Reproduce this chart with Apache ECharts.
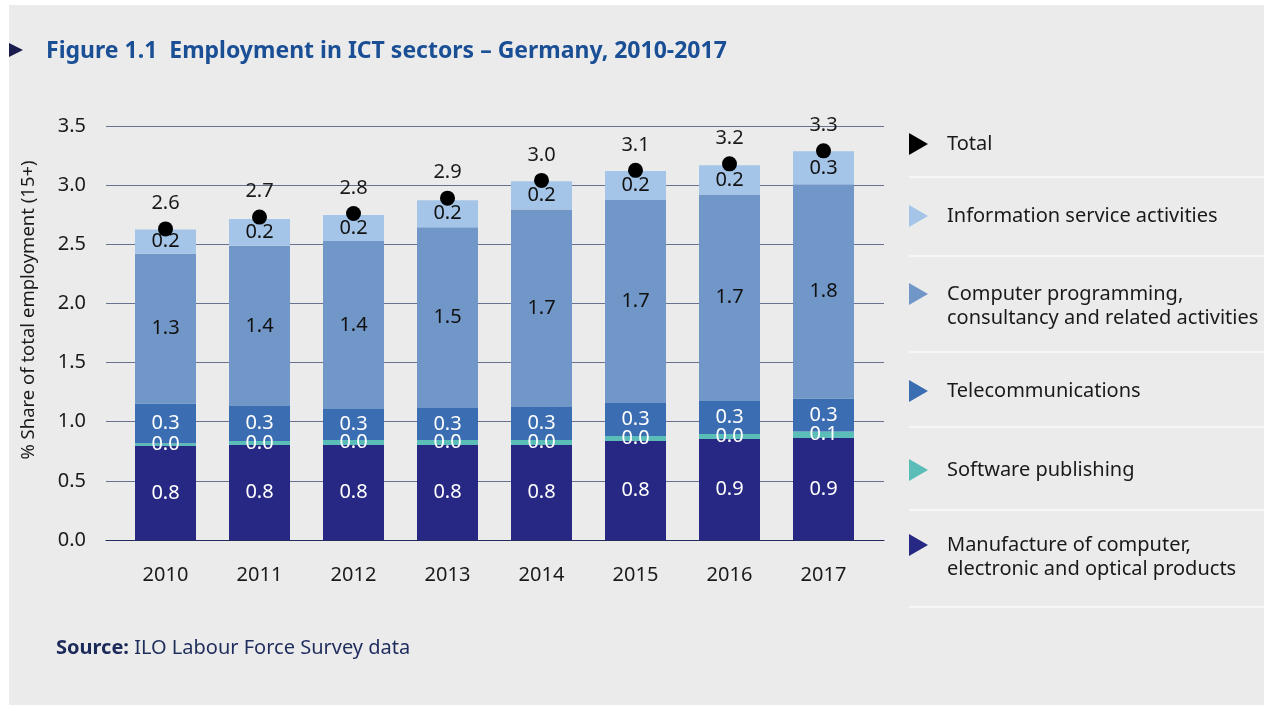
<!DOCTYPE html>
<html>
<head>
<meta charset="utf-8">
<script src="https://cdn.jsdelivr.net/npm/echarts@6/dist/echarts.min.js"></script>
<style>
html,body{margin:0;padding:0;background:#ffffff;}
#chart{width:1264px;height:705px;}
</style>
</head>
<body>
<div id="chart"></div>
<script>
const years = ['2010','2011','2012','2013','2014','2015','2016','2017'];
const manufacture = [0.795, 0.803, 0.803, 0.803, 0.803, 0.837, 0.854, 0.862];
const software    = [0.022, 0.034, 0.042, 0.042, 0.042, 0.042, 0.042, 0.055];
const telecom     = [0.336, 0.296, 0.262, 0.270, 0.280, 0.280, 0.280, 0.280];
const computer    = [1.268, 1.355, 1.420, 1.530, 1.670, 1.716, 1.745, 1.810];
const infoService = [0.203, 0.225, 0.220, 0.228, 0.237, 0.245, 0.248, 0.279];
const total       = [2.63, 2.73, 2.76, 2.89, 3.04, 3.125, 3.18, 3.29];
const yTicks = [0, 0.5, 1.0, 1.5, 2.0, 2.5, 3.0, 3.5];

const names = {
  total: 'Total',
  info: 'Information service activities',
  comp: 'Computer programming,\nconsultancy and related activities',
  tele: 'Telecommunications',
  soft: 'Software publishing',
  manuf: 'Manufacture of computer,\nelectronic and optical products'
};
const colors = {
  total: '#000000', info: '#a4c5e7', comp: '#7197c9',
  tele: '#3a6db1', soft: '#5bbdb8', manuf: '#272883'
};
const FONT = '"Noto Sans", "Open Sans", sans-serif';
const fmt = p => p.value.toFixed(1);

function barSeries(key, data, labelColor) {
  return {
    name: names[key], type: 'bar', stack: 'ict', data: data,
    xAxisIndex: 1, yAxisIndex: 1, barWidth: 61,
    itemStyle: { color: colors[key] },
    label: { show: true, position: 'inside', formatter: fmt,
      color: labelColor, fontSize: 20, fontFamily: FONT },
    emphasis: { disabled: true }
  };
}

const triIcon = 'path://M0,0L19,11L0,22Z';
function legendAt(key, top, twoLine) {
  return {
    data: [names[key]], left: 909, top: top, padding: 0,
    orient: 'vertical', icon: triIcon, itemWidth: 19, itemHeight: 22,
    selectedMode: false,
    formatter: twoLine ? (n => '\n' + n) : (n => n),
    textStyle: { fontSize: 20, color: '#1a1a1a', fontFamily: FONT, lineHeight: 24,
      padding: [0, 0, 0, 14] }
  };
}

const chart = echarts.init(document.getElementById('chart'), null, { renderer: 'canvas' });
const sepYs = [177, 256, 352, 427, 510, 607];
const graphics = [
  { type: 'rect', z: -10, shape: { x: 9, y: 5, width: 1255, height: 700 }, style: { fill: '#ebebeb' } },
  { type: 'polygon', shape: { points: [[9, 43], [23, 50], [9, 57]] }, style: { fill: '#1a1c4d' } },
  { type: 'text', x: 46, y: 51, style: { text: 'Figure 1.1  Employment in ICT sectors – Germany, 2010-2017',
      font: 'bold 23px ' + FONT, fill: '#1a4f95', verticalAlign: 'middle' } },
  { type: 'text', x: 29, y: 310, rotation: Math.PI / 2, style: { text: '% Share of total employment (15+)',
      font: '18.5px ' + FONT, fill: '#1a1a1a', align: 'center', verticalAlign: 'middle' } },
  { type: 'text', x: 56, y: 648, style: { text: '{b|Source:} ILO Labour Force Survey data',
      font: '20px ' + FONT, fill: '#1f2d5c', verticalAlign: 'middle',
      rich: { b: { fontWeight: 'bold', fontSize: 20, fontFamily: FONT, fill: '#1c2a5a' } } } }
];
sepYs.forEach(y => graphics.push({ type: 'line', shape: { x1: 909, y1: y, x2: 1264, y2: y },
  style: { stroke: '#fafafa', lineWidth: 1.5 } }));

chart.setOption({
  animation: false,
  textStyle: { fontFamily: FONT },
  graphic: graphics,
  grid: [
    { left: 106, right: 380, top: 126, bottom: 165 },
    { left: 118.5, width: 752, top: 126, bottom: 165 }
  ],
  xAxis: [
    { type: 'category', gridIndex: 0, data: years, axisLabel: { show: false }, axisTick: { show: false },
      axisLine: { show: true, lineStyle: { color: '#262a5a', width: 1 } } },
    { type: 'category', gridIndex: 1, data: years, axisTick: { show: false }, axisLine: { show: false },
      axisLabel: { color: '#1a1a1a', fontSize: 20, fontFamily: FONT, margin: 25 } }
  ],
  yAxis: [
    { type: 'value', gridIndex: 0, min: 0, max: 3.5, interval: 0.5,
      axisLabel: { color: '#1a1a1a', fontSize: 20, fontFamily: FONT, margin: 20,
        formatter: v => v.toFixed(1) },
      axisLine: { show: false }, axisTick: { show: false },
      splitLine: { show: true, lineStyle: { color: '#68728f', width: 1 } } },
    { type: 'value', gridIndex: 1, min: 0, max: 3.5, interval: 0.5,
      axisLabel: { show: false }, axisLine: { show: false }, axisTick: { show: false },
      splitLine: { show: false } }
  ],
  legend: [
    legendAt('total', 132, false),
    legendAt('info', 204, false),
    legendAt('comp', 258, true),
    legendAt('tele', 379, false),
    legendAt('soft', 458, false),
    legendAt('manuf', 509, true)
  ],
  series: [
    barSeries('manuf', manufacture, '#ffffff'),
    barSeries('soft', software, '#ffffff'),
    barSeries('tele', telecom, '#ffffff'),
    barSeries('comp', computer, '#111111'),
    barSeries('info', infoService, '#111111'),
    {
      name: names.total, type: 'scatter', data: total, xAxisIndex: 1, yAxisIndex: 1,
      symbol: 'circle', symbolSize: 15, itemStyle: { color: '#000000', opacity: 1 }, z: 5,
      label: { show: true, position: 'top', distance: 8, formatter: fmt,
        color: '#1a1a1a', fontSize: 20, fontFamily: FONT },
      emphasis: { disabled: true }
    }
  ]
});
</script>
</body>
</html>
